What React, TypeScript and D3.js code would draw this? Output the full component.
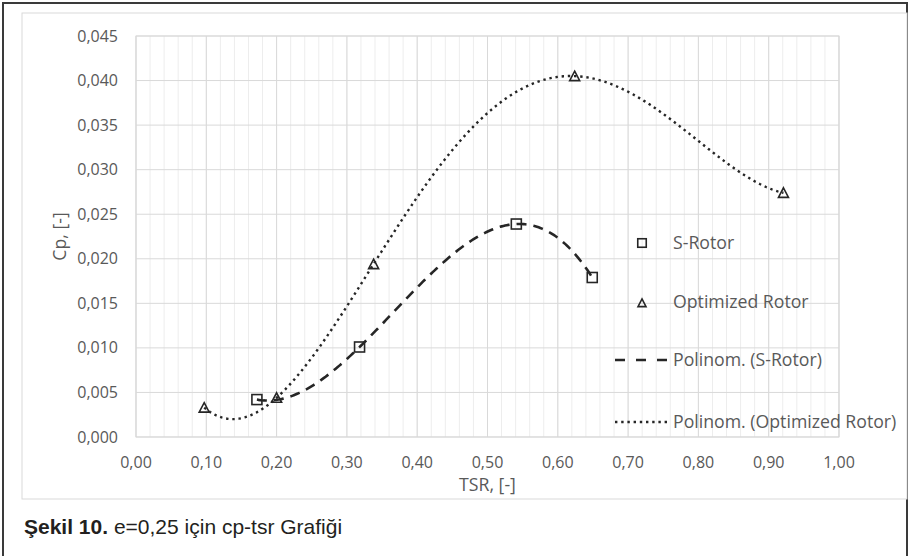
import React from "react";
import * as d3 from "d3";

// ---- data ----
const sRotorTSR = [0.172, 0.318, 0.541, 0.649];
const sRotorCp = [0.0042, 0.0101, 0.0239, 0.0179];
const optTSR = [0.097, 0.2, 0.338, 0.624, 0.921];
const optCp = [0.0033, 0.0044, 0.0194, 0.0405, 0.0274];

const xTicks = [0, 0.1, 0.2, 0.3, 0.4, 0.5, 0.6, 0.7, 0.8, 0.9, 1.0];
const yTicks = [0, 0.005, 0.01, 0.015, 0.02, 0.025, 0.03, 0.035, 0.04, 0.045];
const legendLabels = [
  "S-Rotor",
  "Optimized Rotor",
  "Polinom. (S-Rotor)",
  "Polinom. (Optimized Rotor)",
];
const xTitle = "TSR, [-]";
const yTitle = "Cp, [-]";
const captionBold = "Şekil 10.";
const captionRest = " e=0,25 için cp-tsr Grafiği";

// least-squares polynomial trendline (like Excel's "Polynomial" trendline)
function polyfit(xs: number[], ys: number[], order: number): number[] {
  const n = order + 1;
  const A: number[][] = Array.from({ length: n }, () => new Array(n + 1).fill(0));
  for (let r = 0; r < n; r++) {
    for (let c = 0; c < n; c++) {
      A[r][c] = d3.sum(xs, (x) => Math.pow(x, r + c));
    }
    A[r][n] = d3.sum(xs.map((x, i) => Math.pow(x, r) * ys[i]));
  }
  for (let i = 0; i < n; i++) {
    let p = i;
    for (let k = i + 1; k < n; k++) if (Math.abs(A[k][i]) > Math.abs(A[p][i])) p = k;
    [A[i], A[p]] = [A[p], A[i]];
    for (let k = i + 1; k < n; k++) {
      const f = A[k][i] / A[i][i];
      for (let j = i; j <= n; j++) A[k][j] -= f * A[i][j];
    }
  }
  const coef = new Array(n).fill(0);
  for (let i = n - 1; i >= 0; i--) {
    let s = A[i][n];
    for (let j = i + 1; j < n; j++) s -= A[i][j] * coef[j];
    coef[i] = s / A[i][i];
  }
  return coef;
}
const evalPoly = (c: number[], x: number) => c.reduce((s, a, i) => s + a * Math.pow(x, i), 0);

const W = 910;
const H = 556;
const PL = 136, PR = 839, PT = 36, PB = 437;
const axisFont = "'Open Sans', 'DejaVu Sans', sans-serif";
const textGray = "#595959";
const ink = "#262626";
const tickSize = 16;
const labelSize = 17.7;

export default function App() {
  const x = d3.scaleLinear().domain([0, 1]).range([PL, PR]);
  const y = d3.scaleLinear().domain([0, 0.045]).range([PB, PT]);
  const fmtX = (v: number) => d3.format(".2f")(v).replace(".", ",");
  const fmtY = (v: number) => d3.format(".3f")(v).replace(".", ",");

  const minorX = d3.range(0, 1.0001, 0.02);

  const trend = (xs: number[], ys: number[], order: number) => {
    const c = polyfit(xs, ys, order);
    const lo = d3.min(xs)!, hi = d3.max(xs)!;
    const pts: [number, number][] = d3.range(0, 201).map((i) => {
      const t = lo + ((hi - lo) * i) / 200;
      return [t, evalPoly(c, t)];
    });
    return d3.line<[number, number]>().x((d) => x(d[0])).y((d) => y(d[1]))(pts) || "";
  };
  const sPath = trend(sRotorTSR, sRotorCp, 3);
  const oPath = trend(optTSR, optCp, 4);

  const square = (cx: number, cy: number, s: number) => (
    <rect x={cx - s / 2} y={cy - s / 2} width={s} height={s} fill="none" stroke={ink} strokeWidth={1.6} />
  );
  const triangle = (cx: number, cy: number, s: number) => {
    const h = s * 0.9;
    return (
      <path
        d={`M${cx},${cy - h / 2 - 0.5} L${cx + s / 2},${cy + h / 2} L${cx - s / 2},${cy + h / 2} Z`}
        fill="none"
        stroke={ink}
        strokeWidth={1.6}
        strokeLinejoin="miter"
      />
    );
  };

  const legX = 642;
  const legTextX = 673;
  const legY = [243, 302, 360, 422];

  return (
    <svg width={W} height={H} style={{ position: "absolute", left: 0, top: 0, background: "#fff" }}>
      <rect x={0} y={0} width={W} height={H} fill="#fff" />
      {/* outer frame */}
      <path d={`M3,${H} L3,3 L907,3 L907,${H}`} fill="none" stroke="#3a3a3a" strokeWidth={2} />
      {/* chart area */}
      <rect x={22} y={13} width={885} height={486} fill="#fff" stroke="#d9d9d9" strokeWidth={1} />

      {/* minor vertical gridlines */}
      {minorX.map((v, i) => (
        <line key={"mx" + i} x1={x(v)} x2={x(v)} y1={PT} y2={PB} stroke="#ededed" strokeWidth={1} />
      ))}
      {/* major vertical gridlines */}
      {xTicks.map((v, i) => (
        <line key={"vx" + i} x1={x(v)} x2={x(v)} y1={PT} y2={PB} stroke="#d9d9d9" strokeWidth={1} />
      ))}
      {/* horizontal gridlines */}
      {yTicks.map((v, i) => (
        <line key={"hy" + i} x1={PL} x2={PR} y1={y(v)} y2={y(v)} stroke="#d9d9d9" strokeWidth={1} />
      ))}
      <rect x={PL} y={PT} width={PR - PL} height={PB - PT} fill="none" stroke="#d9d9d9" strokeWidth={1} />

      {/* y tick labels */}
      {yTicks.map((v, i) => (
        <text key={"yl" + i} x={118} y={y(v)} dy="0.35em" textAnchor="end" fontFamily={axisFont} fontSize={tickSize} fill={textGray}>
          {fmtY(v)}
        </text>
      ))}
      {/* x tick labels */}
      {xTicks.map((v, i) => (
        <text key={"xl" + i} x={x(v)} y={462} dy="0.35em" textAnchor="middle" fontFamily={axisFont} fontSize={tickSize} fill={textGray}>
          {fmtX(v)}
        </text>
      ))}
      {/* axis titles */}
      <text x={(PL + PR) / 2} y={485} dy="0.35em" textAnchor="middle" fontFamily={axisFont} fontSize={labelSize} fill={textGray}>
        {xTitle}
      </text>
      <text
        transform={`translate(60,${(PT + PB) / 2}) rotate(-90)`}
        dy="0.35em"
        textAnchor="middle"
        fontFamily={axisFont}
        fontSize={labelSize}
        fill={textGray}
      >
        {yTitle}
      </text>

      {/* trendlines */}
      <path d={oPath} fill="none" stroke={ink} strokeWidth={2.4} strokeDasharray="2.4 3.8" />
      <path d={sPath} fill="none" stroke={ink} strokeWidth={2.6} strokeDasharray="10 7" />

      {/* markers */}
      {sRotorTSR.map((v, i) => (
        <g key={"sq" + i}>{square(x(v), y(sRotorCp[i]), 10)}</g>
      ))}
      {optTSR.map((v, i) => (
        <g key={"tr" + i}>{triangle(x(v), y(optCp[i]), 10)}</g>
      ))}

      {/* legend */}
      {square(legX, legY[0], 8.5)}
      {triangle(legX, legY[1] + 1, 8)}
      <line x1={615} x2={667} y1={legY[2]} y2={legY[2]} stroke={ink} strokeWidth={2.6} strokeDasharray="10 11" />
      <line x1={615} x2={667} y1={legY[3]} y2={legY[3]} stroke={ink} strokeWidth={2.4} strokeDasharray="2.4 3.8" />
      {legendLabels.map((t, i) => (
        <text key={"lg" + i} x={legTextX} y={legY[i]} dy="0.35em" fontFamily={axisFont} fontSize={labelSize} fill={textGray}>
          {t}
        </text>
      ))}

      {/* caption */}
      <text x={24} y={534} fontFamily="'Liberation Sans Narrow', 'Arial Narrow', 'Liberation Sans', sans-serif" fontSize={21} fill="#231f20">
        <tspan fontWeight="bold">{captionBold}</tspan>
        <tspan>{captionRest}</tspan>
      </text>
    </svg>
  );
}
